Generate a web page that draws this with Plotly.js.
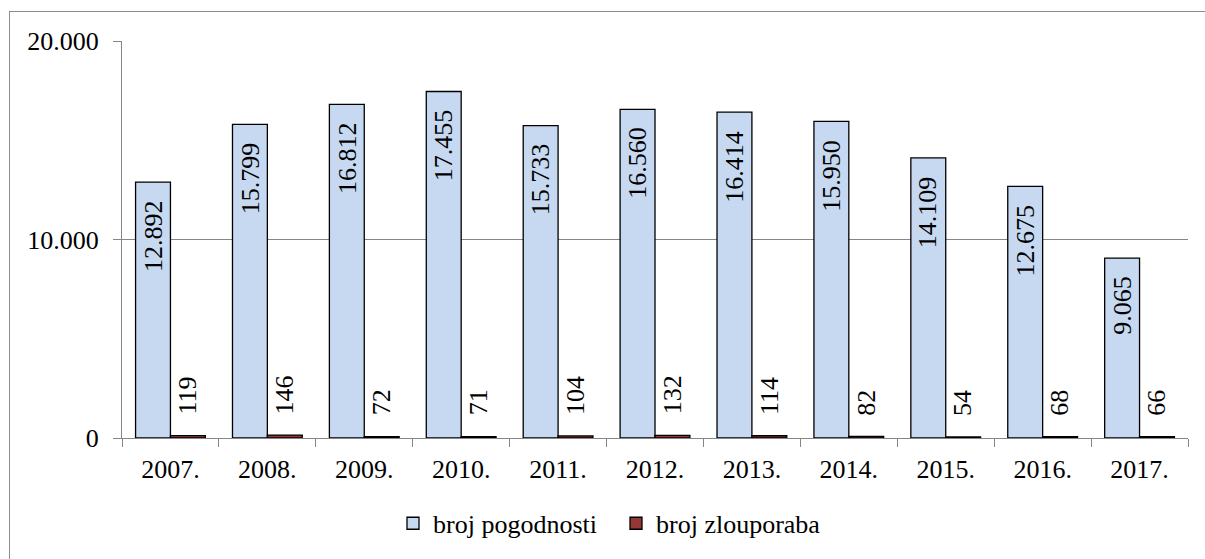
<!DOCTYPE html>
<html>
<head>
<meta charset="utf-8">
<script src="https://cdn.plot.ly/plotly-3.0.1.min.js"></script>
<style>
  html, body { margin: 0; padding: 0; background: #ffffff; overflow: hidden; }
  #wrap { position: relative; width: 1205px; height: 559px; }
  #chart { width: 1205px; height: 559px; }
  #frame { position: absolute; left: 9px; top: 11px; width: 1300px; height: 700px;
           border: 1px solid #8c8c8c; box-sizing: border-box; pointer-events: none; }
</style>
</head>
<body>
<div id="wrap">
  <div id="chart"></div>
  <div id="frame"></div>
</div>
<script>
const years = ["2007.", "2008.", "2009.", "2010.", "2011.", "2012.", "2013.", "2014.", "2015.", "2016.", "2017."];
const brojPogodnosti = [12892, 15799, 16812, 17455, 15733, 16560, 16414, 15950, 14109, 12675, 9065];
const brojZlouporaba = [119, 146, 72, 71, 104, 132, 114, 82, 54, 68, 66];
const yTickVals = [0, 10000, 20000];
const yTickText = ["0", "10.000", "20.000"];

const FONT = "Liberation Serif";
const FS = 26;
const BARGAP = 0.28;
const HALF = (1 - BARGAP) / 4;   // offset of each bar centre from category centre (category units)

function fmt(v) {
  return String(v).replace(/\B(?=(\d{3})+(?!\d))/g, ".");
}

const traces = [
  {
    type: "bar",
    name: "broj pogodnosti",
    x: years,
    y: brojPogodnosti,
    marker: { color: "#c6d9f1", line: { color: "#000000", width: 1.3 } },
    hoverinfo: "none"
  },
  {
    type: "bar",
    name: "broj zlouporaba",
    x: years,
    y: brojZlouporaba,
    marker: { color: "#953735", line: { color: "#000000", width: 1.3 } },
    hoverinfo: "none"
  }
];

const annotations = [];
years.forEach(function (yr, i) {
  annotations.push({
    xref: "x", yref: "y",
    x: i - HALF, y: brojPogodnosti[i],
    text: fmt(brojPogodnosti[i]),
    textangle: -90,
    showarrow: false,
    xanchor: "center", yanchor: "top",
    yshift: -16,
    font: { family: FONT, size: FS, color: "#000000" }
  });
  annotations.push({
    xref: "x", yref: "y",
    x: i + HALF, y: brojZlouporaba[i],
    text: fmt(brojZlouporaba[i]),
    textangle: -90,
    showarrow: false,
    xanchor: "center", yanchor: "bottom",
    yshift: 19,
    font: { family: FONT, size: FS, color: "#000000" }
  });
});

const layout = {
  width: 1205,
  height: 559,
  margin: { l: 122, r: 17, t: 41, b: 119, pad: 0 },
  paper_bgcolor: "#ffffff",
  plot_bgcolor: "#ffffff",
  font: { family: FONT, size: FS, color: "#000000" },
  barmode: "group",
  bargap: BARGAP,
  bargroupgap: 0,
  showlegend: true,
  annotations: annotations,
  legend: {
    orientation: "h",
    x: (393 - 122) / 1066,
    xanchor: "left",
    y: -0.215,
    yanchor: "middle",
    entrywidth: 178,
    entrywidthmode: "pixels",
    font: { family: FONT, size: FS, color: "#000000" },
    bgcolor: "rgba(0,0,0,0)",
    traceorder: "normal"
  },
  xaxis: {
    type: "category",
    showline: true,
    linecolor: "#868686",
    linewidth: 1,
    ticks: "outside",
    tickson: "boundaries",
    ticklen: 8,
    tickcolor: "#868686",
    ticklabelstandoff: 8,
    tickfont: { family: FONT, size: FS, color: "#000000" },
    showgrid: false,
    zeroline: false,
    fixedrange: true
  },
  yaxis: {
    range: [0, 20000],
    tickvals: yTickVals,
    ticktext: yTickText,
    showline: true,
    linecolor: "#868686",
    linewidth: 1,
    ticks: "outside",
    ticklen: 8,
    tickcolor: "#868686",
    ticklabelstandoff: 9,
    showgrid: true,
    gridcolor: "#868686",
    gridwidth: 1,
    zeroline: false,
    tickfont: { family: FONT, size: FS, color: "#000000" },
    fixedrange: true
  }
};

Plotly.newPlot("chart", traces, layout, { staticPlot: true, displayModeBar: false });
</script>
</body>
</html>
